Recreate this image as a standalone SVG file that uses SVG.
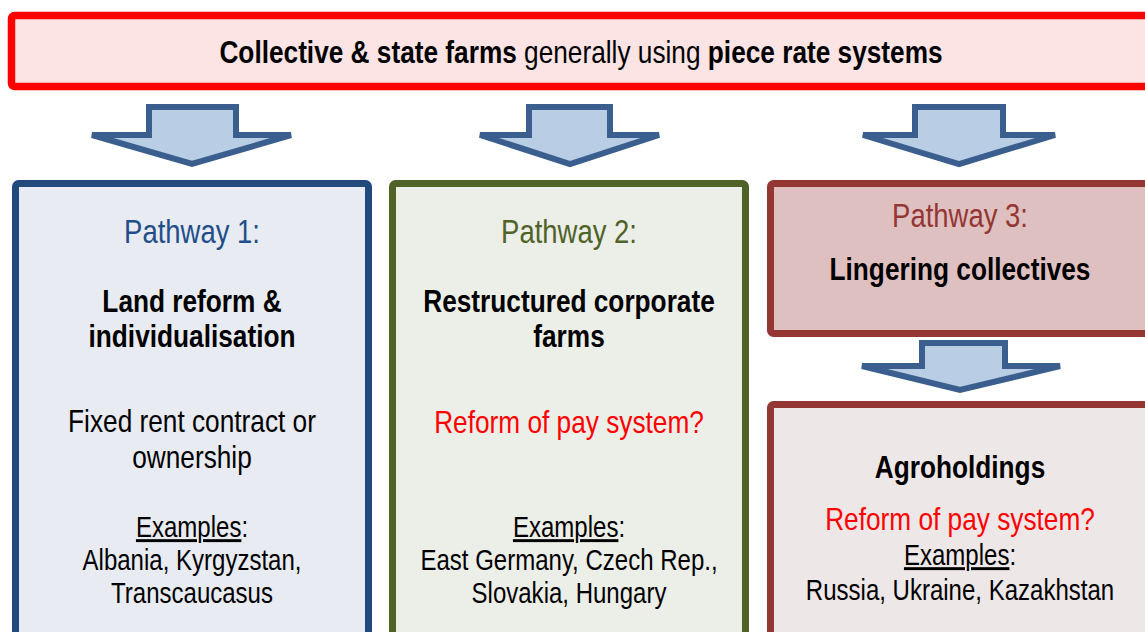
<svg xmlns="http://www.w3.org/2000/svg" width="1145" height="632" viewBox="0 0 1145 632">
<style>
text{font-family:"Liberation Sans",Arial,sans-serif;font-size:32px;text-anchor:middle;fill:#000}
.b{font-weight:bold}
.red{fill:#ff0000}
.ex{font-size:29.3px}
.pw{font-size:33.5px}
.arrow{fill:#b9cde4;stroke:#3a5f8e;stroke-width:6;stroke-linejoin:miter}
</style>
<rect width="1145" height="632" fill="#ffffff"/>
<g id="top">
<rect x="11.5" y="15.5" width="1150" height="71" rx="3" fill="#fde4e4" stroke="#ff0000" stroke-width="7.5"/>
<g transform="translate(581 0) scale(0.82 1)">
<text x="0" y="63"><tspan class="b">Collective &amp; state farms</tspan> generally using <tspan class="b">piece rate systems</tspan></text>
</g>
</g>
<g id="connectors">
<polygon class="arrow" points="149,107 236,107 236,135 291,135 192,164 92,135 149,135"/>
<polygon class="arrow" points="529,107 610,107 610,135 659,135 570,164 480,135 529,135"/>
<polygon class="arrow" points="915,107 1003,107 1003,135 1055,135 959,164 863,135 915,135"/>
<polygon class="arrow" points="922,343 1005,343 1005,366 1060,366 960,390 862,366 922,366"/>
</g>
<g id="pathway1">
<rect x="15.5" y="183.5" width="353" height="460" rx="3" fill="#e8ebf1" stroke="#234a7c" stroke-width="7"/>
<g transform="translate(192 0) scale(0.82 1)">
<text x="0" y="243" class="pw" style="fill:#1f4e8a">Pathway 1:</text>
<text x="0" y="312" class="b">Land reform &amp;</text>
<text x="0" y="347" class="b">individualisation</text>
<text x="0" y="432">Fixed rent contract or</text>
<text x="0" y="468">ownership</text>
<text x="0" y="537" class="ex"><tspan text-decoration="underline">Examples</tspan>:</text>
<text x="0" y="570" class="ex">Albania, Kyrgyzstan,</text>
<text x="0" y="603" class="ex">Transcaucasus</text>
</g>
</g>
<g id="pathway2">
<rect x="392.5" y="183.5" width="353" height="460" rx="3" fill="#eceee8" stroke="#4f6228" stroke-width="7"/>
<g transform="translate(569 0) scale(0.82 1)">
<text x="0" y="243" class="pw" style="fill:#4f6228">Pathway 2:</text>
<text x="0" y="312" class="b">Restructured corporate</text>
<text x="0" y="347" class="b">farms</text>
<text x="0" y="433" class="red">Reform of pay system?</text>
<text x="0" y="537" class="ex"><tspan text-decoration="underline">Examples</tspan>:</text>
<text x="0" y="570" class="ex">East Germany, Czech Rep.,</text>
<text x="0" y="603" class="ex">Slovakia, Hungary</text>
</g>
</g>
<g id="pathway3">
<rect x="770.5" y="183.5" width="400" height="150" rx="3" fill="#dfc0c0" stroke="#943634" stroke-width="7"/>
<g transform="translate(960 0) scale(0.82 1)">
<text x="0" y="227" class="pw" style="fill:#943634">Pathway 3:</text>
<text x="0" y="280" class="b">Lingering collectives</text>
</g>
</g>
<g id="agroholdings">
<rect x="770.5" y="404.5" width="400" height="240" rx="3" fill="#ede7e7" stroke="#943634" stroke-width="7"/>
<g transform="translate(960 0) scale(0.82 1)">
<text x="0" y="478" class="b">Agroholdings</text>
<text x="0" y="530" class="red">Reform of pay system?</text>
<text x="0" y="565" class="ex"><tspan text-decoration="underline">Examples</tspan>:</text>
<text x="0" y="600" class="ex">Russia, Ukraine, Kazakhstan</text>
</g>
</g>
</svg>
